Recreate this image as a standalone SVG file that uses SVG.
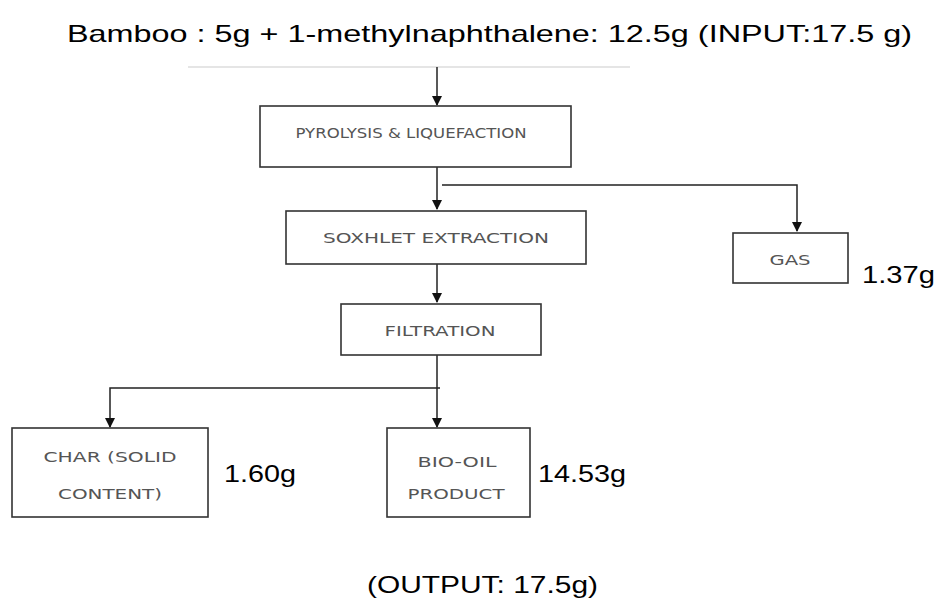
<svg xmlns="http://www.w3.org/2000/svg" width="940" height="608" viewBox="0 0 940 608">
  <defs>
    <marker id="arrow" viewBox="0 0 10 10" refX="9" refY="5" markerWidth="10" markerHeight="10" markerUnits="userSpaceOnUse" orient="auto">
      <path d="M0,0 L10,5 L0,10 Z" fill="#111"/>
    </marker>
    <style>
      .box { fill: #fff; stroke: #333; stroke-width: 1.6; }
      .lbl { font-family: "DejaVu Sans", "Liberation Sans", sans-serif; font-size: 14px; fill: #555; text-anchor: middle; }
      .big { font-family: "Liberation Sans", Arial, sans-serif; font-size: 24px; fill: #000; }
      .conn { fill: none; stroke: #222; stroke-width: 1.5; }
    </style>
  </defs>
  <rect width="940" height="608" fill="#fff"/>

  <text class="big" x="67" y="42" textLength="845" lengthAdjust="spacingAndGlyphs">Bamboo : 5g + 1-methylnaphthalene: 12.5g (INPUT:17.5 g)</text>
  <line x1="188" y1="67" x2="630" y2="67" stroke="#ddd" stroke-width="1.5"/>

  <g id="connectors">
    <path class="conn" d="M437,67 V105" marker-end="url(#arrow)"/>
    <path class="conn" d="M437,167 V209" marker-end="url(#arrow)"/>
    <path class="conn" d="M442,185 H797 V231" marker-end="url(#arrow)"/>
    <path class="conn" d="M437,264 V302" marker-end="url(#arrow)"/>
    <path class="conn" d="M437,355 V427" marker-end="url(#arrow)"/>
    <path class="conn" d="M440,388 H110 V427" marker-end="url(#arrow)"/>
  </g>

  <g id="pyrolysis">
    <rect class="box" x="260" y="106" width="311" height="61"/>
    <text class="lbl" x="411" y="138" textLength="231" lengthAdjust="spacingAndGlyphs">PYROLYSIS &amp; LIQUEFACTION</text>
  </g>

  <g id="soxhlet">
    <rect class="box" x="286" y="211" width="300" height="53"/>
    <text class="lbl" x="436" y="243" textLength="226" lengthAdjust="spacingAndGlyphs">SOXHLET EXTRACTION</text>
  </g>

  <g id="gas">
    <rect class="box" x="733" y="233" width="115" height="50"/>
    <text class="lbl" x="790" y="265" textLength="41" lengthAdjust="spacingAndGlyphs">GAS</text>
    <text class="big" x="862" y="283" textLength="73" lengthAdjust="spacingAndGlyphs">1.37g</text>
  </g>

  <g id="filtration">
    <rect class="box" x="341" y="304" width="200" height="51"/>
    <text class="lbl" x="440" y="336" textLength="111" lengthAdjust="spacingAndGlyphs">FILTRATION</text>
  </g>

  <g id="char">
    <rect class="box" x="12" y="428" width="196" height="89"/>
    <text class="lbl" x="110" y="462" textLength="133" lengthAdjust="spacingAndGlyphs">CHAR (SOLID</text>
    <text class="lbl" x="110" y="499" textLength="104" lengthAdjust="spacingAndGlyphs">CONTENT)</text>
    <text class="big" x="224" y="482" textLength="72" lengthAdjust="spacingAndGlyphs">1.60g</text>
  </g>

  <g id="biooil">
    <rect class="box" x="387" y="428" width="143" height="89"/>
    <text class="lbl" x="457" y="467" textLength="79" lengthAdjust="spacingAndGlyphs">BIO-OIL</text>
    <text class="lbl" x="456" y="499" textLength="97" lengthAdjust="spacingAndGlyphs">PRODUCT</text>
    <text class="big" x="538" y="482" textLength="88" lengthAdjust="spacingAndGlyphs">14.53g</text>
  </g>

  <text class="big" x="367" y="593" textLength="231" lengthAdjust="spacingAndGlyphs">(OUTPUT: 17.5g)</text>
</svg>
